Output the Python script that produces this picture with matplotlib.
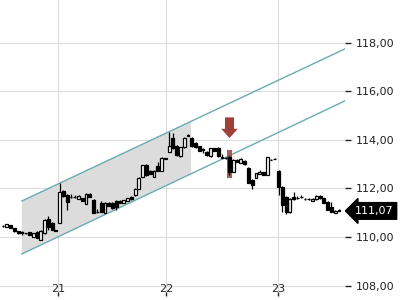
import numpy as np
import matplotlib
matplotlib.use("Agg")
import matplotlib.pyplot as plt
from matplotlib.patches import Rectangle, Polygon

# --- data (intraday candles, index based) ---------------------------------
opens = [110.45, 110.41, 110.49, 110.37, 110.25, 110.21, 110.16, 110.21, 110.00, 110.21,
         109.88, 110.16, 110.74, 110.58, 110.27, 110.58, 111.89, 111.73, 111.65, 111.64,
         111.56, 111.60, 111.36, 111.77, 111.52, 111.03, 111.40, 110.99, 111.40, 111.40,
         111.48, 111.48, 111.40, 111.48, 111.65, 111.73, 111.98, 112.47, 112.96, 112.72,
         112.47, 112.92, 112.72, 113.21, 113.50, 114.07, 113.74, 113.33, 113.70, 114.16,
         114.07, 113.87, 113.74, 113.62, 113.50, 113.33, 113.66, 113.66, 113.29, 113.25,
         113.29, 112.68, 113.17, 113.05, 113.13, 112.84, 112.35, 112.43, 112.59, 112.67,
         112.55, 113.17, 113.21, 112.72, 112.06, 111.65, 111.03, 111.65, 111.60, 111.65,
         111.56, 111.56, 111.48, 111.56, 111.69, 111.60, 111.44, 111.23, 110.99, 111.11]
closes = [110.45, 110.53, 110.37, 110.25, 110.18, 110.16, 110.16, 110.08, 110.16, 109.96,
          110.25, 110.70, 110.41, 110.29, 110.25, 111.85, 111.69, 111.44, 111.63, 111.65,
          111.69, 111.48, 111.77, 111.65, 110.99, 111.01, 111.03, 111.40, 111.28, 111.19,
          111.23, 111.40, 111.52, 111.60, 111.56, 111.98, 112.43, 112.96, 112.55, 112.59,
          112.72, 112.72, 113.25, 113.23, 113.74, 113.66, 113.37, 113.70, 114.07, 114.20,
          113.76, 113.70, 113.54, 113.58, 113.37, 113.66, 113.54, 113.33, 113.25, 113.23,
          112.68, 113.17, 113.09, 113.21, 113.00, 112.22, 112.14, 112.63, 112.67, 112.55,
          113.29, 113.17, 113.21, 112.06, 111.32, 111.03, 111.56, 111.56, 111.61, 111.64,
          111.57, 111.55, 111.56, 111.69, 111.60, 111.40, 111.11, 111.03, 111.07, 111.07]
highs = [110.48, 110.55, 110.50, 110.38, 110.26, 110.23, 110.18, 110.22, 110.18, 110.25,
         110.27, 110.74, 110.86, 110.60, 110.28, 112.22, 111.95, 111.77, 111.77, 111.72,
         111.71, 111.62, 111.79, 111.80, 111.56, 111.15, 111.48, 111.42, 111.42, 111.44,
         111.52, 111.50, 111.54, 111.62, 111.67, 112.00, 112.45, 112.98, 113.00, 112.74,
         112.74, 113.09, 113.27, 113.25, 114.32, 114.28, 113.78, 113.72, 114.11, 114.24,
         114.11, 113.89, 113.76, 113.64, 113.52, 113.68, 113.68, 113.70, 113.40, 113.27,
         113.35, 113.19, 113.19, 113.25, 113.15, 112.86, 112.39, 112.65, 112.76, 112.69,
         113.31, 113.19, 113.23, 112.76, 112.10, 111.69, 111.60, 111.85, 111.67, 111.71,
         111.62, 111.62, 111.62, 111.71, 111.73, 111.62, 111.48, 111.44, 111.09, 111.13]
lows = [110.42, 110.40, 110.35, 110.20, 110.12, 110.10, 110.14, 110.06, 109.98, 109.94,
        109.86, 110.14, 110.29, 110.27, 110.23, 110.56, 111.65, 111.11, 111.62, 111.60,
        111.55, 111.46, 111.34, 111.63, 110.97, 110.99, 111.01, 110.97, 111.26, 111.17,
        111.11, 111.38, 111.38, 111.46, 111.54, 111.70, 111.96, 112.45, 112.50, 112.57,
        112.45, 112.70, 112.70, 113.19, 113.48, 113.62, 113.35, 113.31, 113.68, 114.14,
        113.70, 113.68, 113.52, 113.46, 113.35, 113.31, 113.52, 113.31, 113.23, 113.21,
        112.55, 112.66, 113.07, 113.03, 112.98, 112.20, 111.97, 112.41, 112.57, 112.53,
        112.53, 113.15, 113.19, 111.73, 111.03, 110.95, 110.99, 111.54, 111.56, 111.60,
        111.52, 111.52, 111.46, 111.54, 111.58, 111.38, 111.09, 111.01, 110.97, 111.05]

day_pos = [14.6, 43.2, 72.8]
day_labels = ["21", "22", "23"]
y_ticks = [108, 110, 112, 114, 116, 118]

# trend channel (start/end points)
chan_x = [5.0, 90.6]
chan_upper = [111.48, 117.74]
chan_lower = [109.30, 115.60]
shade_end = 49.8

signal_idx = 60
last_price = 111.07

# --- figure ---------------------------------------------------------------
fig = plt.figure(figsize=(4, 3), dpi=100)
ax = fig.add_axes([0, 4 / 300, 345 / 400, 296 / 300])
ax.set_xlim(-0.8, 90.6)
ax.set_ylim(107.57, 119.75)

for s in ax.spines.values():
    s.set_visible(False)

# grid
for d in day_pos:
    ax.axvline(d, color="#dcdcdc", lw=0.8, zorder=0)
for t in y_ticks:
    ax.axhline(t, color="#dcdcdc", lw=0.8, zorder=0)

# shaded channel part
xs = [chan_x[0], shade_end, shade_end, chan_x[0]]
ys = [chan_upper[0], np.interp(shade_end, chan_x, chan_upper),
      np.interp(shade_end, chan_x, chan_lower), chan_lower[0]]
ax.add_patch(Polygon(list(zip(xs, ys)), closed=True, fc="#dcdcdc", ec="none", zorder=1))
ax.plot(chan_x, chan_upper, color="#6aabb3", lw=1.0, zorder=2)
ax.plot(chan_x, chan_lower, color="#6aabb3", lw=1.0, zorder=2)

# signal highlight + arrow
sx = signal_idx
ax.add_patch(Rectangle((sx - 0.75, 112.43), 1.5, 1.15, fc="#a0403a", ec="none",
                       alpha=0.85, zorder=3))
ax.add_patch(Polygon([(sx - 1.2, 114.92), (sx + 1.2, 114.92),
                      (sx + 1.2, 114.45), (sx + 2.2, 114.45),
                      (sx, 114.07), (sx - 2.2, 114.45),
                      (sx - 1.2, 114.45)], closed=True,
                     fc="#a0403a", ec="none", zorder=3))

# candles
idx = np.arange(len(opens))
o = np.array(opens); c = np.array(closes)
ax.vlines(idx, lows, highs, color="black", lw=0.9, zorder=4)
up = c >= o
body = np.maximum(np.abs(c - o), 0.005)
ax.bar(idx[up], body[up], bottom=o[up], width=0.75, fc="white", ec="black", lw=0.9, zorder=5)
ax.bar(idx[~up], body[~up], bottom=c[~up], width=0.75, fc="black", ec="black", lw=0.9, zorder=5)

# axes ticks
ax.yaxis.tick_right()
ax.set_yticks(y_ticks)
ax.set_yticklabels([f"{t:.2f}".replace(".", ",") for t in y_ticks])
ax.tick_params(axis="y", length=4, width=1, pad=4, labelsize=8, colors="#222222")
ax.set_xticks(day_pos)
ax.set_xticklabels(day_labels)
ax.tick_params(axis="x", direction="in", length=3, width=1, pad=-9, labelsize=8, colors="#222222")

# last price tag
ax.annotate(f"{last_price:.2f}".replace(".", ","), xy=(1.0, last_price),
            xycoords=("axes fraction", "data"), xytext=(7, 0), textcoords="offset points",
            va="center", ha="left", color="white", fontsize=8,
            bbox=dict(boxstyle="larrow,pad=0.3", fc="black", ec="black"),
            annotation_clip=False)

fig.savefig("out.png", dpi=100)
